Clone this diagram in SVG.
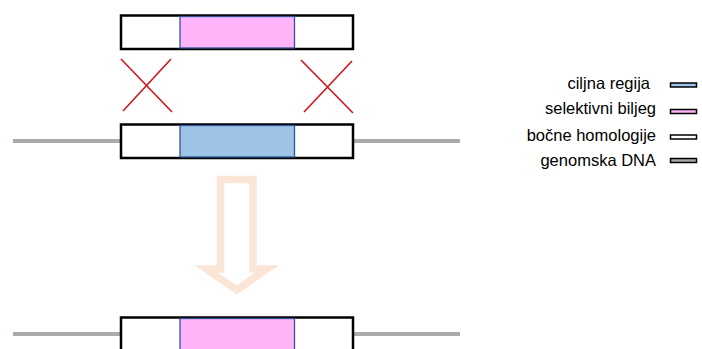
<svg xmlns="http://www.w3.org/2000/svg" width="702" height="349" viewBox="0 0 702 349">
<style>
.dna{stroke:#aeaaaa;stroke-width:4;fill:none}
.outer{fill:#fff;stroke:#000;stroke-width:2.5}
.pink{fill:#ffb3f9;stroke:#2f5597;stroke-width:1.3}
.blue{fill:#9dc3e6;stroke:#2f5597;stroke-width:1.3}
.x{stroke:#d0161b;stroke-width:1.6;fill:none}
.lbl{font-family:"Liberation Sans",Arial,sans-serif;font-size:16.5px;fill:#000;text-anchor:end}
.sw{stroke:#000;stroke-width:1.5}
</style>
<rect width="702" height="349" fill="#fff"/>
<g id="connectors">
<line class="dna" x1="13" y1="141" x2="121" y2="141"/>
<line class="dna" x1="353" y1="141" x2="460" y2="141"/>
<line class="dna" x1="13" y1="334" x2="121" y2="334"/>
<line class="dna" x1="353" y1="334" x2="460" y2="334"/>
<path class="x" d="M121 59 L172 112 M171 59 L123 111"/>
<path class="x" d="M301 60 L353 113 M352 61 L304 112"/>
<polygon points="220.5,179.5 253,179.5 253,269 267,269 236.75,290 206.5,269 220.5,269" fill="#fff" stroke="#fbe5d6" stroke-width="7.5" stroke-linejoin="miter"/>
</g>
<g id="donor">
<rect class="outer" x="121" y="15.5" width="232" height="33.5"/>
<rect class="pink" x="180" y="16.5" width="114.5" height="31.5"/>
</g>
<g id="target">
<rect class="outer" x="121" y="124.5" width="232" height="33.5"/>
<rect class="blue" x="180" y="125.5" width="114.5" height="31.5"/>
</g>
<g id="result">
<rect class="outer" x="121" y="317.5" width="232" height="40"/>
<rect class="pink" x="180" y="318.5" width="114.5" height="40"/>
</g>
<g id="legend">
<text class="lbl" x="650" y="89">ciljna regija</text>
<rect class="sw" x="670.5" y="83" width="26" height="4" fill="#9dc3e6"/>
<text class="lbl" x="656" y="114">selektivni biljeg</text>
<rect class="sw" x="670.5" y="109.5" width="26" height="4" fill="#ffb3f9"/>
<text class="lbl" x="656" y="141">bočne homologije</text>
<rect class="sw" x="670.5" y="135" width="26" height="4" fill="#fff"/>
<text class="lbl" x="656" y="166">genomska DNA</text>
<rect class="sw" x="670.5" y="158.5" width="26" height="4" fill="#a6a6a6"/>
</g>
</svg>
